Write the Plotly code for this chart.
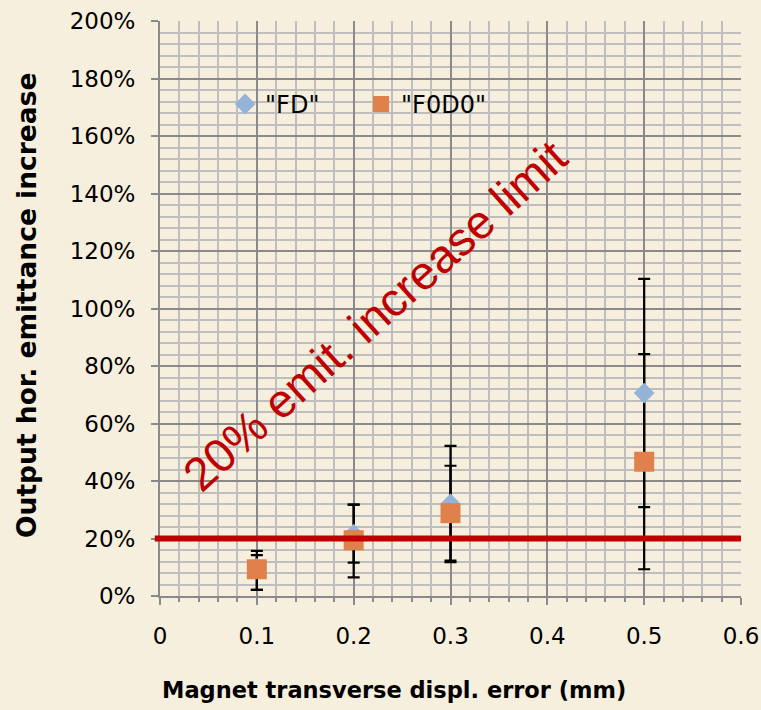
import plotly.graph_objects as go

# ---- data ----
x_vals = [0.1, 0.2, 0.3, 0.5]

fd_vals = [9.6, 21.5, 32.0, 70.6]
fd_err_plus = [6.1, 10.3, 20.2, 39.7]
fd_err_minus = [7.5, 9.9, 20.2, 39.7]

f0d0_vals = [9.3, 19.4, 28.8, 46.7]
f0d0_err_plus = [4.9, 12.4, 16.5, 37.4]
f0d0_err_minus = [7.2, 12.9, 16.5, 37.4]

limit_value = 20
limit_label = "20% emit. increase limit"

x_tick_vals = [0, 0.1, 0.2, 0.3, 0.4, 0.5, 0.6]
x_tick_text = ["0", "0.1", "0.2", "0.3", "0.4", "0.5", "0.6"]
y_tick_vals = [0, 20, 40, 60, 80, 100, 120, 140, 160, 180, 200]
y_tick_text = [f"{v}%" for v in y_tick_vals]

x_title = "Magnet transverse displ. error (mm)"
y_title = "Output hor. emittance increase"

# ---- style ----
BG = "#F7EFDE"
BLUE = "#95B3D7"
ORANGE = "#E0804A"
RED = "#C00000"
MAJOR = "#8A8A8A"
MINOR = "#BEBEBE"
TICK_FONT = dict(family="DejaVu Sans", size=23, color="black")

fig = go.Figure()

# error bars first (drawn beneath all markers)
for vals, ep, em in [(fd_vals, fd_err_plus, fd_err_minus),
                     (f0d0_vals, f0d0_err_plus, f0d0_err_minus)]:
    fig.add_trace(go.Scatter(
        x=x_vals, y=vals, mode="markers",
        marker=dict(size=1, opacity=0),
        error_y=dict(type="data", symmetric=False, array=ep, arrayminus=em,
                     color="black", thickness=2.2, width=6),
        showlegend=False, hoverinfo="skip",
    ))

fig.add_trace(go.Scatter(
    x=x_vals, y=fd_vals, mode="markers", name='"FD"',
    marker=dict(symbol="diamond", size=16, color=BLUE, line=dict(width=0)),
))
fig.add_trace(go.Scatter(
    x=x_vals, y=f0d0_vals, mode="markers", name='"F0D0"',
    marker=dict(symbol="square", size=20, color=ORANGE, line=dict(width=0)),
))

# 20% limit line
fig.add_shape(type="line", xref="paper", yref="y",
              x0=-0.009, x1=1.0, y0=limit_value, y1=limit_value,
              line=dict(color=RED, width=6), layer="above")

fig.add_annotation(
    text=limit_label, x=0.222, y=97.4, xref="x", yref="y",
    showarrow=False, textangle=-42,
    font=dict(family="Liberation Sans", size=47, color=RED),
)

# axis titles as annotations (x title is offset left like the reference)
fig.add_annotation(
    text=f"<b>{x_title}</b>", xref="paper", yref="paper",
    x=(394 - 160) / 581, y=-(690 - 596) / 575,
    showarrow=False, font=dict(family="DejaVu Sans", size=22.5, color="black"),
    xanchor="center", yanchor="middle",
)
fig.add_annotation(
    text=f"<b>{y_title}</b>", xref="paper", yref="paper",
    x=-(160 - 26) / 581, y=(596 - 306) / 575, textangle=-90,
    showarrow=False, font=dict(family="DejaVu Sans", size=26.5, color="black"),
    xanchor="center", yanchor="middle",
)

fig.update_layout(
    width=761, height=710,
    margin=dict(l=160, r=20, t=21, b=114),
    paper_bgcolor=BG, plot_bgcolor=BG,
    showlegend=True,
    legend=dict(orientation="h", x=0.112, y=0.855, xanchor="left", yanchor="middle",
                bgcolor="rgba(0,0,0,0)", font=dict(family="DejaVu Sans", size=24, color="black"),
                entrywidth=91, itemsizing="trace"),
    xaxis=dict(
        range=[0, 0.6], tickvals=x_tick_vals, ticktext=x_tick_text,
        showgrid=True, gridcolor=MAJOR, gridwidth=2, automargin=False,
        showline=True, linecolor=MAJOR, linewidth=2,
        ticks="outside", ticklen=7, tickwidth=2, tickcolor=MAJOR,
        tickfont=TICK_FONT, zeroline=False, ticklabelstandoff=11,
        minor=dict(dtick=0.02, showgrid=True, gridcolor=MINOR, gridwidth=2,
                   ticks="outside", ticklen=4, tickwidth=1.5, tickcolor=MAJOR),
    ),
    yaxis=dict(
        range=[0, 200], tickvals=y_tick_vals, ticktext=y_tick_text,
        showgrid=True, gridcolor=MAJOR, gridwidth=2, automargin=False,
        showline=True, linecolor=MAJOR, linewidth=2,
        ticks="outside", ticklen=7, tickwidth=2, tickcolor=MAJOR,
        tickfont=TICK_FONT, zeroline=False, ticklabelstandoff=11,
        minor=dict(dtick=4, showgrid=True, gridcolor=MINOR, gridwidth=2),
    ),
)

fig.write_html("out.html")
